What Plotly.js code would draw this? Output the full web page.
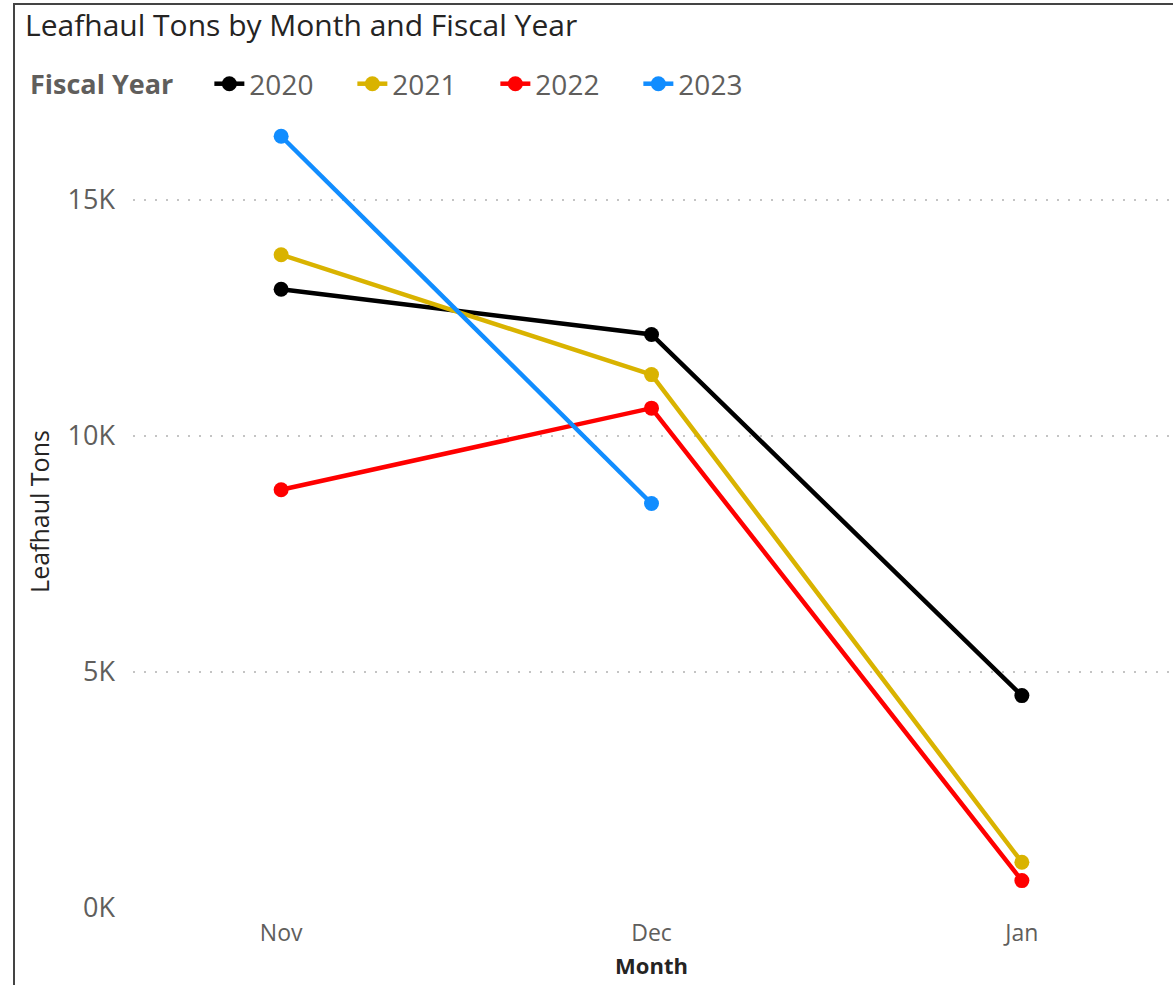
<!DOCTYPE html>
<html>
<head>
<meta charset="utf-8">
<script src="https://cdn.plot.ly/plotly-3.0.1.min.js"></script>
<style>
html,body{margin:0;padding:0;background:#fff;}
#chart{width:1173px;height:985px;}
#frame{position:absolute;left:13px;top:3px;width:1200px;height:1000px;border-left:2px solid #444;border-top:2px solid #444;pointer-events:none;}
</style>
</head>
<body>
<div id="chart"></div>
<div id="frame"></div>
<script>
const months = ["Nov", "Dec", "Jan"];
const years = ["2020", "2021", "2022", "2023"];
const tons2020 = [13110, 12150, 4500];
const tons2021 = [13840, 11300, 970];
const tons2022 = [8860, 10590, 580];
const tons2023 = [16350, 8570, null];
const colors = ["#000000", "#D9B300", "#FF0000", "#118DFF"];
const yTickVals = [0, 5000, 10000, 15000];
const yTickText = ["0K", "5K", "10K", "15K"];

const series = [tons2020, tons2021, tons2022, tons2023];
const FONT = "'Open Sans', 'Noto Sans', sans-serif";

const traces = series.map((vals, i) => ({
  type: "scatter",
  mode: "lines+markers",
  name: years[i],
  x: months,
  y: vals,
  line: {color: colors[i], width: 4.5},
  marker: {color: colors[i], size: 15},
  cliponaxis: false
}));

const layout = {
  width: 1173,
  height: 985,
  margin: {l: 133, r: 3, t: 115, b: 77},
  paper_bgcolor: "#ffffff",
  plot_bgcolor: "#ffffff",
  showlegend: true,
  title: {
    text: "Leafhaul Tons by Month and Fiscal Year",
    x: 25/1173, xanchor: "left", xref: "container",
    y: 1 - 25/985, yanchor: "middle", yref: "container",
    font: {family: FONT, size: 30, color: "#252423"}
  },
  legend: {
    orientation: "h",
    x: (28 - 133)/1037, xanchor: "left",
    y: 1 + (115 - 59)/793, yanchor: "top",
    title: {text: "<b>Fiscal Year</b>&nbsp;&nbsp;&nbsp;&nbsp;", font: {family: FONT, size: 27, color: "#605E5C"}, side: "left"},
    font: {family: FONT, size: 28, color: "#605E5C"},
    itemwidth: 30,
    entrywidth: 98,
    entrywidthmode: "pixels",
    traceorder: "normal",
    bgcolor: "rgba(0,0,0,0)"
  },
  xaxis: {
    type: "category",
    range: [-0.4, 2.4],
    showgrid: false,
    zeroline: false,
    showline: false,
    ticks: "",
    ticklabelstandoff: 9,
    tickfont: {family: FONT, size: 23, color: "#605E5C"},
    title: {text: "<b>Month</b>", font: {family: FONT, size: 22, color: "#252423"}, standoff: 11},
    fixedrange: true
  },
  yaxis: {
    range: [0, 16800],
    tickvals: yTickVals,
    ticktext: yTickText,
    showgrid: true,
    gridcolor: "#C4C4C4",
    griddash: "2px,9px",
    gridwidth: 2,
    zeroline: false,
    showline: false,
    ticks: "",
    ticklabelstandoff: 17,
    tickfont: {family: FONT, size: 27, color: "#605E5C"},
    title: {text: "Leafhaul Tons", font: {family: FONT, size: 25, color: "#252423"}, standoff: 10},
    fixedrange: true
  }
};

Plotly.newPlot("chart", traces, layout, {displayModeBar: false, staticPlot: true});
</script>
</body>
</html>
